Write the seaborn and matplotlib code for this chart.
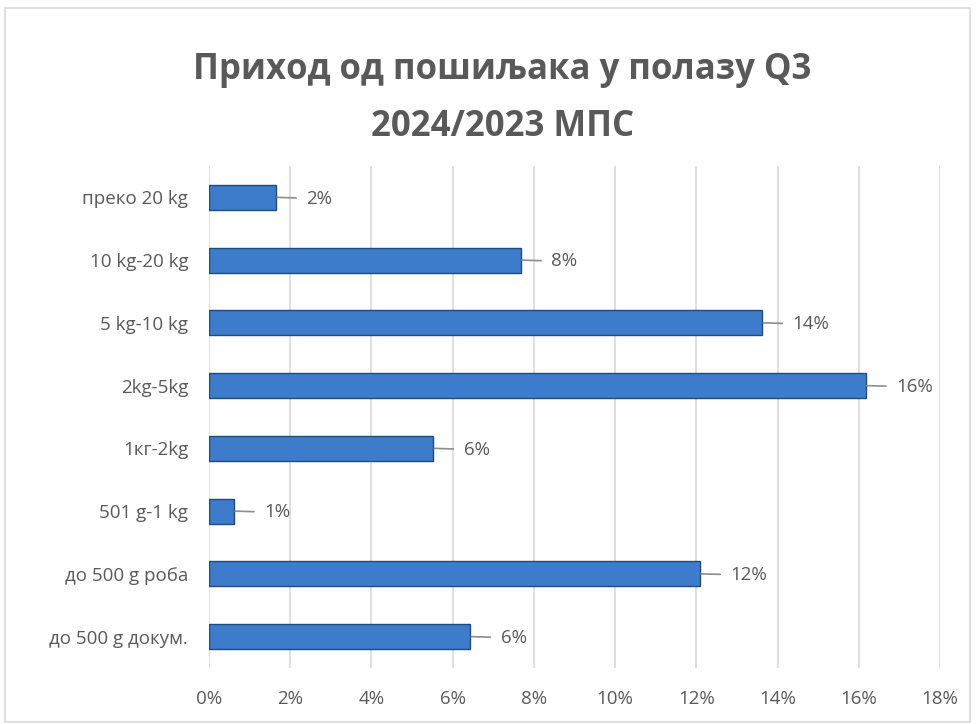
import matplotlib
matplotlib.use('Agg')
import matplotlib.pyplot as plt
import seaborn as sns
import pandas as pd
from matplotlib.patches import Rectangle
from matplotlib.ticker import FuncFormatter

categories = ['преко 20 kg', '10 kg-20 kg', '5 kg-10 kg', '2kg-5kg',
              '1кг-2kg', '501 g-1 kg', 'до 500 g роба', 'до 500 g докум.']
values = [1.65, 7.68, 13.62, 16.17, 5.52, 0.61, 12.09, 6.43]
x_ticks = [0, 2, 4, 6, 8, 10, 12, 14, 16, 18]
title = 'Приход од пошиљака у полазу Q3\n2024/2023 МПС'

sns.set_style('white')
plt.rcParams['font.family'] = ['Open Sans', 'DejaVu Sans']
text_color = '#595959'

df = pd.DataFrame({'cat': categories, 'val': values})

fig = plt.figure(figsize=(9.76, 7.24), dpi=100)
ax = fig.add_axes([209 / 976, 1 - 668 / 724, (940 - 209) / 976, (668 - 166) / 724])

sns.barplot(data=df, x='val', y='cat', ax=ax, orient='h', width=0.4,
            color='#3d7cca', edgecolor='#1f4a80', linewidth=1.0, saturation=1)

ax.set_xlim(0, 18)
ax.set_xticks(x_ticks)
ax.xaxis.set_major_formatter(FuncFormatter(lambda v, p: f'{v:.0f}%'))
ax.grid(axis='x', color='#d9d9d9', linewidth=1.2)
ax.set_axisbelow(True)
for s in ax.spines.values():
    s.set_visible(False)
ax.set_xlabel('')
ax.set_ylabel('')
ax.tick_params(axis='both', length=0, labelsize=13.5, labelcolor=text_color)
ax.tick_params(axis='x', pad=16)
ax.tick_params(axis='y', pad=15)

# value labels with leader lines
for i, v in enumerate(values):
    ax.annotate(f'{round(v):.0f}%', xy=(v + 0.03, i), xytext=(v + 0.75, i + 0.02),
                va='center', ha='left', fontsize=13.5, color=text_color,
                arrowprops=dict(arrowstyle='-', color='#8c8c8c', lw=1.2,
                                shrinkA=5, shrinkB=0))

fig.text(0.515, 0.864, title, ha='center', va='center', fontsize=25,
         fontweight='bold', color=text_color, linespacing=1.75)

fig.patches.append(Rectangle((5 / 976, 2 / 724), 965 / 976, 714 / 724,
                             transform=fig.transFigure, fill=False,
                             edgecolor='#d9d9d9', linewidth=1.2))

fig.savefig('out.png', dpi=100)
